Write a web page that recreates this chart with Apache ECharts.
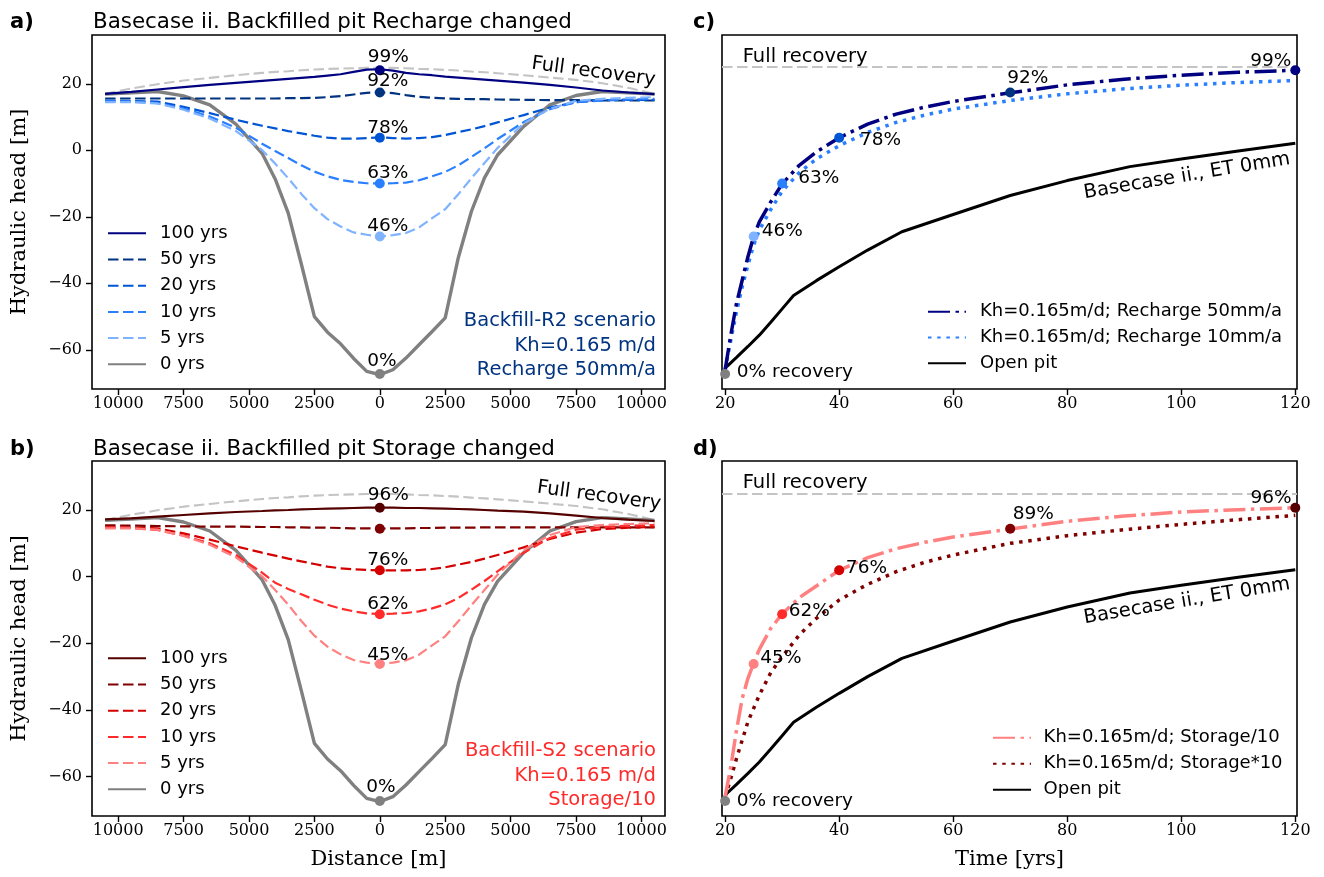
<!DOCTYPE html>
<html><head><meta charset="utf-8">
<script src="https://cdn.jsdelivr.net/npm/echarts@6/dist/echarts.min.js"></script>
<style>html,body{margin:0;padding:0;background:#fff}#c{width:1324px;height:877px}</style>
</head><body><div id="c"></div>
<script>
// ---------------- DATA ----------------
const distance = [-10500,-9500,-8500,-7500,-6500,-5500,-4500,-4000,-3500,-3000,-2500,-2000,-1500,-1000,-500,0,500,1000,1500,2000,2500,3000,3500,4000,4500,5500,6500,7500,8500,9500,10500];
const fullHead = [17.0,18.6,19.9,21.0,21.8,22.6,23.3,23.6,23.8,24.1,24.3,24.5,24.6,24.7,24.8,24.8,24.8,24.7,24.5,24.4,24.2,24.0,23.7,23.5,23.2,22.6,21.9,21.2,20.2,18.8,17.0];
const head0 = [16.9,17.3,17.7,16.4,13.7,7.9,-0.9,-8.6,-18.9,-34.2,-50.0,-54.7,-58.2,-62.6,-66.5,-67.5,-66.0,-62.5,-58.5,-54.5,-50.4,-32.3,-18.4,-8.3,-1.4,7.2,13.7,16.5,17.7,17.3,16.9];
const headA100 = [17.0,17.6,18.3,19.0,19.7,20.3,20.9,21.2,21.5,21.8,22.1,22.5,22.9,23.6,24.3,24.4,24.0,23.3,22.9,22.6,22.2,21.9,21.6,21.3,21.0,20.4,19.7,18.9,18.0,17.4,16.9];
const headA50 = [15.6,15.6,15.6,15.6,15.6,15.6,15.6,15.6,15.7,15.7,15.8,16.0,16.3,16.8,17.3,17.5,17.2,16.6,16.1,15.8,15.6,15.5,15.4,15.4,15.3,15.2,15.1,15.1,15.0,15.0,15.0];
const headA20 = [15.0,14.8,14.7,13.1,11.2,9.2,7.4,6.6,5.8,5.1,4.4,3.8,3.5,3.5,3.7,3.9,3.7,3.5,3.7,4.0,4.6,5.5,6.3,7.3,8.4,10.6,12.9,14.5,15.1,15.2,15.2];
const headA10 = [14.8,14.7,14.2,12.6,10.2,6.8,2.0,-0.2,-2.3,-4.5,-6.4,-7.8,-8.9,-9.5,-9.9,-10.0,-9.9,-9.7,-9.0,-7.8,-6.5,-4.5,-2.0,0.6,3.4,8.5,12.4,14.5,15.0,15.3,15.5];
const headA5 = [14.5,14.5,14.1,12.2,9.6,5.8,0.1,-4.0,-8.4,-13.1,-17.4,-20.7,-22.9,-24.7,-25.4,-25.9,-25.5,-24.9,-23.2,-20.4,-17.7,-13.2,-8.4,-3.8,0.7,8.1,12.5,14.9,15.5,15.8,16.0];
const headB100 = [17.2,17.5,18.0,18.5,19.0,19.4,19.7,19.9,20.0,20.2,20.3,20.4,20.5,20.6,20.7,20.7,20.7,20.6,20.6,20.5,20.4,20.3,20.2,20.0,19.8,19.5,19.0,18.3,17.6,17.1,16.7];
const headB50 = [15.4,15.3,15.2,15.1,15.0,15.0,14.9,14.9,14.8,14.8,14.7,14.7,14.6,14.5,14.5,14.4,14.5,14.5,14.6,14.6,14.7,14.7,14.7,14.8,14.8,14.8,14.8,14.8,14.8,14.8,14.8];
const headB20 = [14.9,14.7,14.5,13.0,11.1,9.1,7.2,6.3,5.4,4.6,3.8,3.0,2.5,2.2,2.0,1.9,1.9,1.9,2.0,2.3,2.8,3.6,4.4,5.4,6.5,8.8,11.3,13.2,14.3,14.7,14.9];
const headB10 = [14.8,14.6,14.0,12.3,10.0,6.5,1.2,-1.8,-3.7,-5.3,-6.9,-8.4,-9.6,-10.4,-11.0,-11.2,-11.1,-10.9,-10.4,-9.5,-8.3,-6.4,-3.9,-1.3,1.6,7.2,11.6,14.1,14.9,15.3,15.5];
const headB5 = [14.5,14.5,14.1,12.2,9.6,5.8,0.1,-4.0,-8.4,-13.3,-17.7,-21.0,-23.3,-25.0,-25.8,-26.2,-25.8,-25.1,-23.4,-20.6,-17.9,-13.4,-8.6,-4.0,0.6,8.0,12.5,14.9,15.5,15.8,16.0];

const yearLabels = ['100 yrs','50 yrs','20 yrs','10 yrs','5 yrs','0 yrs'];
const pointDistance = [0,0,0,0,0,0];
const pointTimes = [20,25,30,40,70,120];
const centerHeadA = [-67.3,-25.9,-10.0,3.8,17.4,24.1];
const centerHeadB = [-67.3,-26.2,-11.3,1.9,14.4,20.7];
const pctA = ['0%','46%','63%','78%','92%','99%'];
const pctB = ['0%','45%','62%','76%','','96%'];
const pctC = ['0% recovery','46%','63%','78%','92%','99%'];
const pctD = ['0% recovery','45%','62%','76%','89%','96%'];

const timeRec = [20,21,22,23,24,25,26,28,30,33,36,40,45,50,55,60,70,80,90,100,110,120];
const headR50 = [-66,-55.5,-46,-39,-32,-25.9,-21.5,-15.5,-10.1,-4.5,-0.5,3.8,7.9,10.9,13.0,14.7,17.3,19.7,21.4,22.6,23.5,24.1];
const headR10 = [-66,-57,-48.5,-41,-34.5,-28.5,-24,-17.8,-12.3,-6.7,-2.6,1.4,5.4,8.4,10.6,12.4,15.0,17.0,18.5,19.6,20.4,21.0];
const headS10 = [-66,-57,-46,-36.5,-30.5,-26.0,-21.8,-15.5,-11.2,-6.3,-2.8,1.9,5.7,8.4,10.3,11.9,14.3,16.6,18.2,19.4,20.1,20.7];
const headS10x = [-66,-60.5,-54.5,-49,-43.5,-39.5,-35.5,-28.8,-24.0,-17.5,-12.5,-7.0,-2.3,1.5,4.3,6.5,10.0,12.3,14.1,15.7,17.1,18.4];
const timeOpen = [20,22,24,26,28,30,32,36,40,45,51,60,70,80,91,100,110,120];
const headOpen = [-65.5,-62.3,-59.0,-55.6,-51.7,-47.7,-43.7,-39.2,-35.0,-30.0,-24.5,-19.3,-13.6,-9.1,-4.9,-2.6,-0.2,2.1];
const fullRecoveryC = 25.2;
const fullRecoveryD = 24.9;
const legendC = ['Kh=0.165m/d; Recharge 50mm/a','Kh=0.165m/d; Recharge 10mm/a','Open pit'];
const legendD = ['Kh=0.165m/d; Storage/10','Kh=0.165m/d; Storage*10','Open pit'];

const xTicksDist = [-10000,-7500,-5000,-2500,0,2500,5000,7500,10000];
const yTicksHead = [-60,-40,-20,0,20];
const xTicksTime = [20,40,60,80,100,120];

// ---------------- STYLE ----------------
const SANS = '"DejaVu Sans"', SERIF = '"DejaVu Serif"';
const blues = ['#000080','#003380','#0055d4','#2a7fff','#80b3ff','#808080'];
const reds  = ['#550000','#800000','#d40000','#ff2a2a','#ff8080','#808080'];
const ptColA = ['#808080','#80b3ff','#2a7fff','#0055d4','#003380','#000080'];
const ptColB = ['#808080','#ff8080','#ff2a2a','#d40000','#800000','#550000'];
const DASH = [10.5,4.5], DASHDOT = [22,5.5,3.5,5.5], DOT = [3.5,5.7];
const GRAYFULL = '#c4c4c4';

const grids = [
  {left:92, top:35, width:573, height:354},
  {left:92, top:461, width:573, height:355},
  {left:722, top:35, width:575, height:354},
  {left:722, top:461, width:575, height:355}
].map(g => Object.assign(g, {show:true, borderColor:'#000', borderWidth:1.6, backgroundColor:'transparent', containLabel:false, outerBoundsMode:'none'}));

const minus = v => v < 0 ? '\u2212' + Math.abs(v) : String(v);
const tickStyle = {show:true, length:6, inside:false, lineStyle:{color:'#000', width:1.4}};
function xAx(gi, min, max, ticks, fmt) {
  return {type:'value', gridIndex:gi, position:'bottom', min, max, axisLine:{show:false, onZero:false}, splitLine:{show:false},
    axisTick:Object.assign({customValues:ticks}, tickStyle),
    axisLabel:{show:true, customValues:ticks, formatter:fmt, fontFamily:SERIF, fontSize:16, color:'#000', margin:7}};
}
function yAx(gi, labels) {
  return {type:'value', gridIndex:gi, position:'left', min:-71.8, max:34.7, axisLine:{show:false, onZero:false}, splitLine:{show:false},
    axisTick:labels ? Object.assign({customValues:yTicksHead}, tickStyle) : {show:false},
    axisLabel:labels ? {show:true, customValues:yTicksHead, formatter:minus, fontFamily:SERIF, fontSize:16, color:'#000', margin:10} : {show:false}};
}

function lineS(name, gi, xs, ys, color, width, dash, z) {
  return {type:'line', name, xAxisIndex:gi, yAxisIndex:gi, data:xs.map((x,i)=>[x, ys[i]]),
    symbol:'none', showSymbol:false, lineStyle:{color, width, type:dash || 'solid', cap:'butt'},
    itemStyle:{color}, z:z || 2, silent:true, animation:false, emphasis:{disabled:true}};
}
function pointS(gi, xs, ys, colors, labels, offsets, aligns) {
  return {type:'scatter', xAxisIndex:gi, yAxisIndex:gi, symbol:'circle', symbolSize:10, z:10, silent:true, clip:false, animation:false,
    itemStyle:{opacity:1}, emphasis:{disabled:true},
    data: ys.map((y,i)=>({value:[xs[i], y], itemStyle:{color:colors[i], opacity:1},
      label:{show:labels[i] !== '', formatter:labels[i], position:'inside', offset:offsets[i], align:aligns ? aligns[i] : 'center',
        verticalAlign:'middle', color:'#000', opacity:1, textBorderWidth:0, textBorderColor:'transparent', textShadowBlur:0,
        fontFamily:SANS, fontSize:18.5}}))};
}

const namesA = ['a100','a50','a20','a10','a5','a0'];
const namesB = ['b100','b50','b20','b10','b5','b0'];
const namesC = ['cR50','cR10','cOpen'];
const namesD = ['dS10','dS10x','dOpen'];
const legendTextMap = {};
namesA.forEach((n,i)=>legendTextMap[n] = yearLabels[i]);
namesB.forEach((n,i)=>legendTextMap[n] = yearLabels[i]);
namesC.forEach((n,i)=>legendTextMap[n] = legendC[i]);
namesD.forEach((n,i)=>legendTextMap[n] = legendD[i]);

const headsA = [headA100, headA50, headA20, headA10, headA5, head0];
const headsB = [headB100, headB50, headB20, headB10, headB5, head0];

const series = [];
// panel a
series.push(lineS('aFull', 0, distance, fullHead, GRAYFULL, 2.1, DASH, 1));
headsA.forEach((h,i)=>{
  const solid = (i === 0 || i === 5);
  series.push(lineS(namesA[i], 0, distance, h, blues[i], i === 5 ? 3.4 : 2.2, solid ? 'solid' : DASH, i === 5 ? 1 : 2));
});
series.push(pointS(0, pointDistance, centerHeadA, ptColA, pctA,
  [[2,-13],[8,-10],[8,-10],[8,-10],[8,-11],[8.5,-13]]));
// panel b
series.push(lineS('bFull', 1, distance, fullHead, GRAYFULL, 2.1, DASH, 1));
headsB.forEach((h,i)=>{
  const solid = (i === 0 || i === 5);
  series.push(lineS(namesB[i], 1, distance, h, reds[i], i === 5 ? 3.4 : 2.2, solid ? 'solid' : DASH, i === 5 ? 1 : 2));
});
series.push(pointS(1, pointDistance, centerHeadB, ptColB, pctB,
  [[1,-13.4],[8,-9.3],[8,-10.6],[8,-10],[0,0],[8.5,-12]]));
// panel c
const fullLine = v => ({silent:true, symbol:['none','none'], animation:false, label:{show:false},
  lineStyle:{color:GRAYFULL, width:2.1, type:DASH}, data:[{yAxis:v}]});
series.push(lineS('cOpen', 2, timeOpen, headOpen, '#000', 3, 'solid', 2));
series.push(lineS('cR10', 2, timeRec, headR10, '#2a7fff', 3.5, DOT, 3));
const r50 = lineS('cR50', 2, timeRec, headR50, '#000080', 3.5, DASHDOT, 4);
r50.markLine = fullLine(fullRecoveryC);
series.push(r50);
series.push(pointS(2, pointTimes, centerHeadA, ptColA, pctC,
  [[11.7,-2],[8,-5.4],[16,-5.7],[20.7,2],[17.6,-14],[-24.6,-9.3]],
  ['left','left','left','left','center','center']));
// panel d
series.push(lineS('dOpen', 3, timeOpen, headOpen, '#000', 3, 'solid', 2));
series.push(lineS('dS10x', 3, timeRec, headS10x, '#800000', 3.5, DOT, 3));
const s10 = lineS('dS10', 3, timeRec, headS10, '#ff8080', 3.5, DASHDOT, 4);
s10.markLine = fullLine(fullRecoveryD);
series.push(s10);
series.push(pointS(3, pointTimes, centerHeadB, ptColB, pctD,
  [[11.7,0],[6.7,-5.4],[6.6,-3.4],[6.7,-2],[23,-14.7],[-24.3,-9]],
  ['left','left','left','left','center','center']));

function legend(names, left, top, gap, padLeft) {
  return {show:true, orient:'vertical', left, top, padding:0, itemWidth:38, itemHeight:14, itemGap:gap,
    selectedMode:false, data:names, formatter:n => legendTextMap[n],
    itemStyle:{color:'rgba(0,0,0,0)', borderColor:'rgba(0,0,0,0)', borderWidth:0, opacity:0},
    textStyle:{fontFamily:SANS, fontSize:18, color:'#000', lineHeight:20, padding:[0,0,0,padLeft]}};
}

function txt(text, x, y, opts) {
  opts = opts || {};
  return {type:'text', x, y, rotation:opts.rot || 0, silent:true, z:100,
    style:{text, fill:opts.color || '#000', font:opts.font || ('19.5px ' + SANS),
      align:opts.align || 'center', verticalAlign:'middle', lineHeight:opts.lh}};
}

const graphics = [
  txt('a)', 10, 23, {align:'left', font:'bold 21px ' + SANS}),
  txt('b)', 10, 450, {align:'left', font:'bold 21px ' + SANS}),
  txt('c)', 693, 23, {align:'left', font:'bold 21px ' + SANS}),
  txt('d)', 693, 450, {align:'left', font:'bold 21px ' + SANS}),
  txt('Basecase ii. Backfilled pit Recharge changed', 93, 22, {align:'left', font:'21.4px ' + SANS}),
  txt('Basecase ii. Backfilled pit Storage changed', 93, 449.5, {align:'left', font:'21.4px ' + SANS}),
  txt('Full recovery', 593.5, 72, {rot:-0.135}),
  txt('Full recovery', 599, 496, {rot:-0.135}),
  txt('Full recovery', 742.7, 57, {align:'left'}),
  txt('Full recovery', 742.7, 483, {align:'left'}),
  txt('Basecase ii., ET 0mm', 1187, 176, {rot:0.165}),
  txt('Basecase ii., ET 0mm', 1187, 601, {rot:0.165}),
  txt('Backfill-R2 scenario\nKh=0.165 m/d\nRecharge 50mm/a', 656, 345.7, {align:'right', color:'#003380', lh:24.5}),
  txt('Backfill-S2 scenario\nKh=0.165 m/d\nStorage/10', 656, 775.5, {align:'right', color:'#ff2a2a', lh:24.5}),
  txt('Hydraulic head [m]', 19.5, 212, {rot:Math.PI/2, font:'21px ' + SERIF}),
  txt('Hydraulic head [m]', 19.5, 638.5, {rot:Math.PI/2, font:'21px ' + SERIF}),
  txt('Distance [m]', 378.5, 860, {font:'21px ' + SERIF}),
  txt('Time [yrs]', 1009.5, 860, {font:'21px ' + SERIF})
];

const distFmt = v => String(Math.abs(v));
const option = {
  animation:false,
  backgroundColor:'#fff',
  grid: grids,
  xAxis: [
    xAx(0, -11000, 10900, xTicksDist, distFmt),
    xAx(1, -11000, 10900, xTicksDist, distFmt),
    xAx(2, 19.45, 120.3, xTicksTime, v => String(v)),
    xAx(3, 19.45, 120.3, xTicksTime, v => String(v))
  ],
  yAxis: [yAx(0, true), yAx(1, true), yAx(2, false), yAx(3, false)],
  legend: [
    legend(namesA, 107, 223.3, 6.2, 9),
    legend(namesB, 107, 648.3, 6.2, 9),
    legend(namesC, 927, 301.7, 5.8, 9),
    legend(namesD, 992, 727.7, 6, 7.6)
  ],
  series,
  graphic: graphics
};
const chart = echarts.init(document.getElementById('c'), null, {renderer:'canvas'});
chart.setOption(option);
</script></body></html>
